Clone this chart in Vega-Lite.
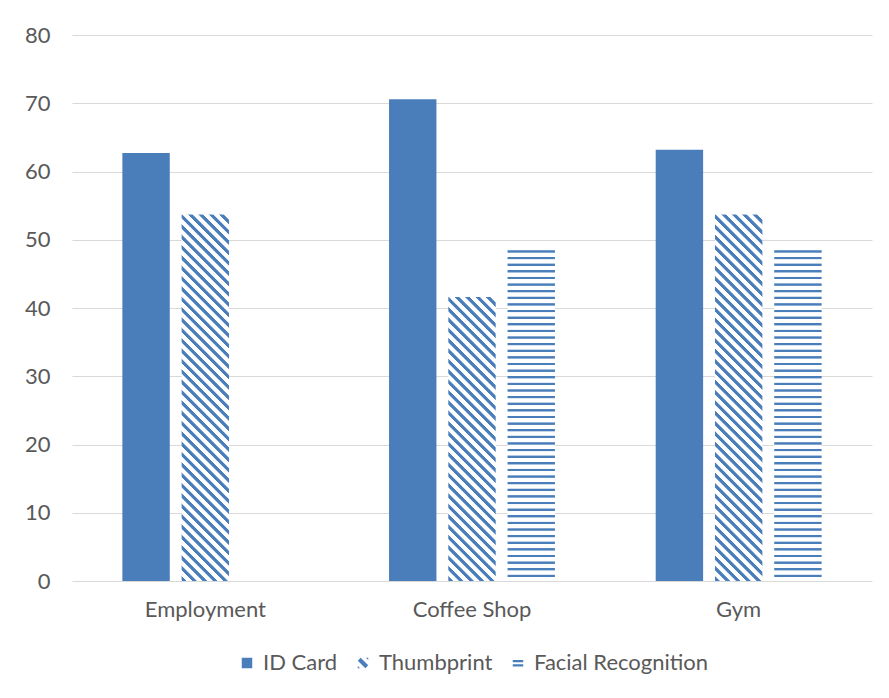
{
  "$schema": "https://vega.github.io/schema/vega-lite/v6.json",
  "width": 800,
  "height": 546,
  "autosize": {"type": "none"},
  "padding": {"left": 72, "top": 35, "right": 17, "bottom": 117},
  "background": "white",
  "config": {
    "view": {"stroke": null},
    "font": "Lato",
    "axis": {"labelFont": "Lato", "labelColor": "#595959", "labelFontSize": 22, "ticks": false, "domain": false},
    "legend": {"layout": {"bottom": {"anchor": "middle"}}}
  },
  "data": {"values": [
    {"category": "Employment", "series": "ID Card", "value": 62.7},
    {"category": "Employment", "series": "Thumbprint", "value": 53.7},
    {"category": "Coffee Shop", "series": "ID Card", "value": 70.6},
    {"category": "Coffee Shop", "series": "Thumbprint", "value": 41.6},
    {"category": "Coffee Shop", "series": "Facial Recognition", "value": 48.5},
    {"category": "Gym", "series": "ID Card", "value": 63.2},
    {"category": "Gym", "series": "Thumbprint", "value": 53.7},
    {"category": "Gym", "series": "Facial Recognition", "value": 48.5}
  ]},
  "encoding": {
    "x": {"field": "category", "type": "nominal", "sort": ["Employment", "Coffee Shop", "Gym"],
      "scale": {"paddingInner": 0, "paddingOuter": 0},
      "axis": {"title": null, "labelAngle": 0, "labelPadding": 18, "grid": false}},
    "xOffset": {"field": "series", "type": "nominal",
      "scale": {"domain": ["ID Card", "Thumbprint", "Facial Recognition"], "paddingInner": 0.2, "paddingOuter": 0.85}},
    "y": {"field": "value", "type": "quantitative", "scale": {"domain": [0, 80]},
      "axis": {"title": null, "values": [0, 10, 20, 30, 40, 50, 60, 70, 80], "grid": true, "gridColor": "#d9d9d9", "gridWidth": 1.2, "labelPadding": 22}}
  },
  "layer": [
    {
      "mark": {"type": "bar"},
      "encoding": {
        "fill": {
          "field": "series", "type": "nominal",
          "legend": {"title": null, "orient": "bottom", "direction": "horizontal", "offset": 32, "symbolSize": 110, "symbolStrokeWidth": 0, "symbolOpacity": 1, "labelFont": "Lato", "labelFontSize": 22, "labelColor": "#595959", "labelLimit": 300, "labelOffset": 5, "columnPadding": 14},
          "scale": {"domain": ["ID Card", "Thumbprint", "Facial Recognition"], "range": ["#4a7ebb", "#4a7ebb", "#4a7ebb"]},
          "condition": [
            {"test": "datum.series === 'Thumbprint' && datum.category === 'Coffee Shop'", "value": {"gradient": "linear", "x1": 0, "y1": 1, "x2": 0.1896, "y2": -0.1353, "stops": [
{"offset":0,"color":"#fff"},{"offset":0.0025,"color":"#4a7ebb"},{"offset":0.01375,"color":"#4a7ebb"},{"offset":0.01625,"color":"#fff"},
{"offset":0.03125,"color":"#fff"},{"offset":0.03375,"color":"#4a7ebb"},{"offset":0.045,"color":"#4a7ebb"},{"offset":0.0475,"color":"#fff"},
{"offset":0.0625,"color":"#fff"},{"offset":0.065,"color":"#4a7ebb"},{"offset":0.07625,"color":"#4a7ebb"},{"offset":0.07875,"color":"#fff"},
{"offset":0.09375,"color":"#fff"},{"offset":0.09625,"color":"#4a7ebb"},{"offset":0.1075,"color":"#4a7ebb"},{"offset":0.11,"color":"#fff"},
{"offset":0.125,"color":"#fff"},{"offset":0.1275,"color":"#4a7ebb"},{"offset":0.13875,"color":"#4a7ebb"},{"offset":0.14125,"color":"#fff"},
{"offset":0.15625,"color":"#fff"},{"offset":0.15875,"color":"#4a7ebb"},{"offset":0.17,"color":"#4a7ebb"},{"offset":0.1725,"color":"#fff"},
{"offset":0.1875,"color":"#fff"},{"offset":0.19,"color":"#4a7ebb"},{"offset":0.20125,"color":"#4a7ebb"},{"offset":0.20375,"color":"#fff"},
{"offset":0.21875,"color":"#fff"},{"offset":0.22125,"color":"#4a7ebb"},{"offset":0.2325,"color":"#4a7ebb"},{"offset":0.235,"color":"#fff"},
{"offset":0.25,"color":"#fff"},{"offset":0.2525,"color":"#4a7ebb"},{"offset":0.26375,"color":"#4a7ebb"},{"offset":0.26625,"color":"#fff"},
{"offset":0.28125,"color":"#fff"},{"offset":0.28375,"color":"#4a7ebb"},{"offset":0.295,"color":"#4a7ebb"},{"offset":0.2975,"color":"#fff"},
{"offset":0.3125,"color":"#fff"},{"offset":0.315,"color":"#4a7ebb"},{"offset":0.32625,"color":"#4a7ebb"},{"offset":0.32875,"color":"#fff"},
{"offset":0.34375,"color":"#fff"},{"offset":0.34625,"color":"#4a7ebb"},{"offset":0.3575,"color":"#4a7ebb"},{"offset":0.36,"color":"#fff"},
{"offset":0.375,"color":"#fff"},{"offset":0.3775,"color":"#4a7ebb"},{"offset":0.38875,"color":"#4a7ebb"},{"offset":0.39125,"color":"#fff"},
{"offset":0.40625,"color":"#fff"},{"offset":0.40875,"color":"#4a7ebb"},{"offset":0.42,"color":"#4a7ebb"},{"offset":0.4225,"color":"#fff"},
{"offset":0.4375,"color":"#fff"},{"offset":0.44,"color":"#4a7ebb"},{"offset":0.45125,"color":"#4a7ebb"},{"offset":0.45375,"color":"#fff"},
{"offset":0.46875,"color":"#fff"},{"offset":0.47125,"color":"#4a7ebb"},{"offset":0.4825,"color":"#4a7ebb"},{"offset":0.485,"color":"#fff"},
{"offset":0.5,"color":"#fff"},{"offset":0.5025,"color":"#4a7ebb"},{"offset":0.51375,"color":"#4a7ebb"},{"offset":0.51625,"color":"#fff"},
{"offset":0.53125,"color":"#fff"},{"offset":0.53375,"color":"#4a7ebb"},{"offset":0.545,"color":"#4a7ebb"},{"offset":0.5475,"color":"#fff"},
{"offset":0.5625,"color":"#fff"},{"offset":0.565,"color":"#4a7ebb"},{"offset":0.57625,"color":"#4a7ebb"},{"offset":0.57875,"color":"#fff"},
{"offset":0.59375,"color":"#fff"},{"offset":0.59625,"color":"#4a7ebb"},{"offset":0.6075,"color":"#4a7ebb"},{"offset":0.61,"color":"#fff"},
{"offset":0.625,"color":"#fff"},{"offset":0.6275,"color":"#4a7ebb"},{"offset":0.63875,"color":"#4a7ebb"},{"offset":0.64125,"color":"#fff"},
{"offset":0.65625,"color":"#fff"},{"offset":0.65875,"color":"#4a7ebb"},{"offset":0.67,"color":"#4a7ebb"},{"offset":0.6725,"color":"#fff"},
{"offset":0.6875,"color":"#fff"},{"offset":0.69,"color":"#4a7ebb"},{"offset":0.70125,"color":"#4a7ebb"},{"offset":0.70375,"color":"#fff"},
{"offset":0.71875,"color":"#fff"},{"offset":0.72125,"color":"#4a7ebb"},{"offset":0.7325,"color":"#4a7ebb"},{"offset":0.735,"color":"#fff"},
{"offset":0.75,"color":"#fff"},{"offset":0.7525,"color":"#4a7ebb"},{"offset":0.76375,"color":"#4a7ebb"},{"offset":0.76625,"color":"#fff"},
{"offset":0.78125,"color":"#fff"},{"offset":0.78375,"color":"#4a7ebb"},{"offset":0.795,"color":"#4a7ebb"},{"offset":0.7975,"color":"#fff"},
{"offset":0.8125,"color":"#fff"},{"offset":0.815,"color":"#4a7ebb"},{"offset":0.82625,"color":"#4a7ebb"},{"offset":0.82875,"color":"#fff"},
{"offset":0.84375,"color":"#fff"},{"offset":0.84625,"color":"#4a7ebb"},{"offset":0.8575,"color":"#4a7ebb"},{"offset":0.86,"color":"#fff"},
{"offset":0.875,"color":"#fff"},{"offset":0.8775,"color":"#4a7ebb"},{"offset":0.88875,"color":"#4a7ebb"},{"offset":0.89125,"color":"#fff"},
{"offset":0.90625,"color":"#fff"},{"offset":0.90875,"color":"#4a7ebb"},{"offset":0.92,"color":"#4a7ebb"},{"offset":0.9225,"color":"#fff"},
{"offset":0.9375,"color":"#fff"},{"offset":0.94,"color":"#4a7ebb"},{"offset":0.95125,"color":"#4a7ebb"},{"offset":0.95375,"color":"#fff"},
{"offset":0.96875,"color":"#fff"},{"offset":0.97125,"color":"#4a7ebb"},{"offset":0.9825,"color":"#4a7ebb"},{"offset":0.985,"color":"#fff"}
            ]}},
            {"test": "datum.series === 'Thumbprint'", "value": {"gradient": "linear", "x1": 0, "y1": 1, "x2": 0.1437, "y2": -0.1108, "stops": [
{"offset":0,"color":"#fff"},{"offset":0.002,"color":"#4a7ebb"},{"offset":0.011,"color":"#4a7ebb"},{"offset":0.013,"color":"#fff"},
{"offset":0.025,"color":"#fff"},{"offset":0.027,"color":"#4a7ebb"},{"offset":0.036,"color":"#4a7ebb"},{"offset":0.038,"color":"#fff"},
{"offset":0.05,"color":"#fff"},{"offset":0.052,"color":"#4a7ebb"},{"offset":0.061,"color":"#4a7ebb"},{"offset":0.063,"color":"#fff"},
{"offset":0.075,"color":"#fff"},{"offset":0.077,"color":"#4a7ebb"},{"offset":0.086,"color":"#4a7ebb"},{"offset":0.088,"color":"#fff"},
{"offset":0.1,"color":"#fff"},{"offset":0.102,"color":"#4a7ebb"},{"offset":0.111,"color":"#4a7ebb"},{"offset":0.113,"color":"#fff"},
{"offset":0.125,"color":"#fff"},{"offset":0.127,"color":"#4a7ebb"},{"offset":0.136,"color":"#4a7ebb"},{"offset":0.138,"color":"#fff"},
{"offset":0.15,"color":"#fff"},{"offset":0.152,"color":"#4a7ebb"},{"offset":0.161,"color":"#4a7ebb"},{"offset":0.163,"color":"#fff"},
{"offset":0.175,"color":"#fff"},{"offset":0.177,"color":"#4a7ebb"},{"offset":0.186,"color":"#4a7ebb"},{"offset":0.188,"color":"#fff"},
{"offset":0.2,"color":"#fff"},{"offset":0.202,"color":"#4a7ebb"},{"offset":0.211,"color":"#4a7ebb"},{"offset":0.213,"color":"#fff"},
{"offset":0.225,"color":"#fff"},{"offset":0.227,"color":"#4a7ebb"},{"offset":0.236,"color":"#4a7ebb"},{"offset":0.238,"color":"#fff"},
{"offset":0.25,"color":"#fff"},{"offset":0.252,"color":"#4a7ebb"},{"offset":0.261,"color":"#4a7ebb"},{"offset":0.263,"color":"#fff"},
{"offset":0.275,"color":"#fff"},{"offset":0.277,"color":"#4a7ebb"},{"offset":0.286,"color":"#4a7ebb"},{"offset":0.288,"color":"#fff"},
{"offset":0.3,"color":"#fff"},{"offset":0.302,"color":"#4a7ebb"},{"offset":0.311,"color":"#4a7ebb"},{"offset":0.313,"color":"#fff"},
{"offset":0.325,"color":"#fff"},{"offset":0.327,"color":"#4a7ebb"},{"offset":0.336,"color":"#4a7ebb"},{"offset":0.338,"color":"#fff"},
{"offset":0.35,"color":"#fff"},{"offset":0.352,"color":"#4a7ebb"},{"offset":0.361,"color":"#4a7ebb"},{"offset":0.363,"color":"#fff"},
{"offset":0.375,"color":"#fff"},{"offset":0.377,"color":"#4a7ebb"},{"offset":0.386,"color":"#4a7ebb"},{"offset":0.388,"color":"#fff"},
{"offset":0.4,"color":"#fff"},{"offset":0.402,"color":"#4a7ebb"},{"offset":0.411,"color":"#4a7ebb"},{"offset":0.413,"color":"#fff"},
{"offset":0.425,"color":"#fff"},{"offset":0.427,"color":"#4a7ebb"},{"offset":0.436,"color":"#4a7ebb"},{"offset":0.438,"color":"#fff"},
{"offset":0.45,"color":"#fff"},{"offset":0.452,"color":"#4a7ebb"},{"offset":0.461,"color":"#4a7ebb"},{"offset":0.463,"color":"#fff"},
{"offset":0.475,"color":"#fff"},{"offset":0.477,"color":"#4a7ebb"},{"offset":0.486,"color":"#4a7ebb"},{"offset":0.488,"color":"#fff"},
{"offset":0.5,"color":"#fff"},{"offset":0.502,"color":"#4a7ebb"},{"offset":0.511,"color":"#4a7ebb"},{"offset":0.513,"color":"#fff"},
{"offset":0.525,"color":"#fff"},{"offset":0.527,"color":"#4a7ebb"},{"offset":0.536,"color":"#4a7ebb"},{"offset":0.538,"color":"#fff"},
{"offset":0.55,"color":"#fff"},{"offset":0.552,"color":"#4a7ebb"},{"offset":0.561,"color":"#4a7ebb"},{"offset":0.563,"color":"#fff"},
{"offset":0.575,"color":"#fff"},{"offset":0.577,"color":"#4a7ebb"},{"offset":0.586,"color":"#4a7ebb"},{"offset":0.588,"color":"#fff"},
{"offset":0.6,"color":"#fff"},{"offset":0.602,"color":"#4a7ebb"},{"offset":0.611,"color":"#4a7ebb"},{"offset":0.613,"color":"#fff"},
{"offset":0.625,"color":"#fff"},{"offset":0.627,"color":"#4a7ebb"},{"offset":0.636,"color":"#4a7ebb"},{"offset":0.638,"color":"#fff"},
{"offset":0.65,"color":"#fff"},{"offset":0.652,"color":"#4a7ebb"},{"offset":0.661,"color":"#4a7ebb"},{"offset":0.663,"color":"#fff"},
{"offset":0.675,"color":"#fff"},{"offset":0.677,"color":"#4a7ebb"},{"offset":0.686,"color":"#4a7ebb"},{"offset":0.688,"color":"#fff"},
{"offset":0.7,"color":"#fff"},{"offset":0.702,"color":"#4a7ebb"},{"offset":0.711,"color":"#4a7ebb"},{"offset":0.713,"color":"#fff"},
{"offset":0.725,"color":"#fff"},{"offset":0.727,"color":"#4a7ebb"},{"offset":0.736,"color":"#4a7ebb"},{"offset":0.738,"color":"#fff"},
{"offset":0.75,"color":"#fff"},{"offset":0.752,"color":"#4a7ebb"},{"offset":0.761,"color":"#4a7ebb"},{"offset":0.763,"color":"#fff"},
{"offset":0.775,"color":"#fff"},{"offset":0.777,"color":"#4a7ebb"},{"offset":0.786,"color":"#4a7ebb"},{"offset":0.788,"color":"#fff"},
{"offset":0.8,"color":"#fff"},{"offset":0.802,"color":"#4a7ebb"},{"offset":0.811,"color":"#4a7ebb"},{"offset":0.813,"color":"#fff"},
{"offset":0.825,"color":"#fff"},{"offset":0.827,"color":"#4a7ebb"},{"offset":0.836,"color":"#4a7ebb"},{"offset":0.838,"color":"#fff"},
{"offset":0.85,"color":"#fff"},{"offset":0.852,"color":"#4a7ebb"},{"offset":0.861,"color":"#4a7ebb"},{"offset":0.863,"color":"#fff"},
{"offset":0.875,"color":"#fff"},{"offset":0.877,"color":"#4a7ebb"},{"offset":0.886,"color":"#4a7ebb"},{"offset":0.888,"color":"#fff"},
{"offset":0.9,"color":"#fff"},{"offset":0.902,"color":"#4a7ebb"},{"offset":0.911,"color":"#4a7ebb"},{"offset":0.913,"color":"#fff"},
{"offset":0.925,"color":"#fff"},{"offset":0.927,"color":"#4a7ebb"},{"offset":0.936,"color":"#4a7ebb"},{"offset":0.938,"color":"#fff"},
{"offset":0.95,"color":"#fff"},{"offset":0.952,"color":"#4a7ebb"},{"offset":0.961,"color":"#4a7ebb"},{"offset":0.963,"color":"#fff"},
{"offset":0.975,"color":"#fff"},{"offset":0.977,"color":"#4a7ebb"},{"offset":0.986,"color":"#4a7ebb"},{"offset":0.988,"color":"#fff"}
            ]}},
            {"test": "datum.series === 'Facial Recognition'", "value": {"gradient": "linear", "x1": 0.5, "y1": 0, "x2": 0.5, "y2": 1, "stops": [
{"offset":0,"color":"#fff"},{"offset":0.002,"color":"#4a7ebb"},{"offset":0.007,"color":"#4a7ebb"},{"offset":0.009,"color":"#fff"},
{"offset":0.02,"color":"#fff"},{"offset":0.022,"color":"#4a7ebb"},{"offset":0.027,"color":"#4a7ebb"},{"offset":0.029,"color":"#fff"},
{"offset":0.04,"color":"#fff"},{"offset":0.042,"color":"#4a7ebb"},{"offset":0.047,"color":"#4a7ebb"},{"offset":0.049,"color":"#fff"},
{"offset":0.06,"color":"#fff"},{"offset":0.062,"color":"#4a7ebb"},{"offset":0.067,"color":"#4a7ebb"},{"offset":0.069,"color":"#fff"},
{"offset":0.08,"color":"#fff"},{"offset":0.082,"color":"#4a7ebb"},{"offset":0.087,"color":"#4a7ebb"},{"offset":0.089,"color":"#fff"},
{"offset":0.1,"color":"#fff"},{"offset":0.102,"color":"#4a7ebb"},{"offset":0.107,"color":"#4a7ebb"},{"offset":0.109,"color":"#fff"},
{"offset":0.12,"color":"#fff"},{"offset":0.122,"color":"#4a7ebb"},{"offset":0.127,"color":"#4a7ebb"},{"offset":0.129,"color":"#fff"},
{"offset":0.14,"color":"#fff"},{"offset":0.142,"color":"#4a7ebb"},{"offset":0.147,"color":"#4a7ebb"},{"offset":0.149,"color":"#fff"},
{"offset":0.16,"color":"#fff"},{"offset":0.162,"color":"#4a7ebb"},{"offset":0.167,"color":"#4a7ebb"},{"offset":0.169,"color":"#fff"},
{"offset":0.18,"color":"#fff"},{"offset":0.182,"color":"#4a7ebb"},{"offset":0.187,"color":"#4a7ebb"},{"offset":0.189,"color":"#fff"},
{"offset":0.2,"color":"#fff"},{"offset":0.202,"color":"#4a7ebb"},{"offset":0.207,"color":"#4a7ebb"},{"offset":0.209,"color":"#fff"},
{"offset":0.22,"color":"#fff"},{"offset":0.222,"color":"#4a7ebb"},{"offset":0.227,"color":"#4a7ebb"},{"offset":0.229,"color":"#fff"},
{"offset":0.24,"color":"#fff"},{"offset":0.242,"color":"#4a7ebb"},{"offset":0.247,"color":"#4a7ebb"},{"offset":0.249,"color":"#fff"},
{"offset":0.26,"color":"#fff"},{"offset":0.262,"color":"#4a7ebb"},{"offset":0.267,"color":"#4a7ebb"},{"offset":0.269,"color":"#fff"},
{"offset":0.28,"color":"#fff"},{"offset":0.282,"color":"#4a7ebb"},{"offset":0.287,"color":"#4a7ebb"},{"offset":0.289,"color":"#fff"},
{"offset":0.3,"color":"#fff"},{"offset":0.302,"color":"#4a7ebb"},{"offset":0.307,"color":"#4a7ebb"},{"offset":0.309,"color":"#fff"},
{"offset":0.32,"color":"#fff"},{"offset":0.322,"color":"#4a7ebb"},{"offset":0.327,"color":"#4a7ebb"},{"offset":0.329,"color":"#fff"},
{"offset":0.34,"color":"#fff"},{"offset":0.342,"color":"#4a7ebb"},{"offset":0.347,"color":"#4a7ebb"},{"offset":0.349,"color":"#fff"},
{"offset":0.36,"color":"#fff"},{"offset":0.362,"color":"#4a7ebb"},{"offset":0.367,"color":"#4a7ebb"},{"offset":0.369,"color":"#fff"},
{"offset":0.38,"color":"#fff"},{"offset":0.382,"color":"#4a7ebb"},{"offset":0.387,"color":"#4a7ebb"},{"offset":0.389,"color":"#fff"},
{"offset":0.4,"color":"#fff"},{"offset":0.402,"color":"#4a7ebb"},{"offset":0.407,"color":"#4a7ebb"},{"offset":0.409,"color":"#fff"},
{"offset":0.42,"color":"#fff"},{"offset":0.422,"color":"#4a7ebb"},{"offset":0.427,"color":"#4a7ebb"},{"offset":0.429,"color":"#fff"},
{"offset":0.44,"color":"#fff"},{"offset":0.442,"color":"#4a7ebb"},{"offset":0.447,"color":"#4a7ebb"},{"offset":0.449,"color":"#fff"},
{"offset":0.46,"color":"#fff"},{"offset":0.462,"color":"#4a7ebb"},{"offset":0.467,"color":"#4a7ebb"},{"offset":0.469,"color":"#fff"},
{"offset":0.48,"color":"#fff"},{"offset":0.482,"color":"#4a7ebb"},{"offset":0.487,"color":"#4a7ebb"},{"offset":0.489,"color":"#fff"},
{"offset":0.5,"color":"#fff"},{"offset":0.502,"color":"#4a7ebb"},{"offset":0.507,"color":"#4a7ebb"},{"offset":0.509,"color":"#fff"},
{"offset":0.52,"color":"#fff"},{"offset":0.522,"color":"#4a7ebb"},{"offset":0.527,"color":"#4a7ebb"},{"offset":0.529,"color":"#fff"},
{"offset":0.54,"color":"#fff"},{"offset":0.542,"color":"#4a7ebb"},{"offset":0.547,"color":"#4a7ebb"},{"offset":0.549,"color":"#fff"},
{"offset":0.56,"color":"#fff"},{"offset":0.562,"color":"#4a7ebb"},{"offset":0.567,"color":"#4a7ebb"},{"offset":0.569,"color":"#fff"},
{"offset":0.58,"color":"#fff"},{"offset":0.582,"color":"#4a7ebb"},{"offset":0.587,"color":"#4a7ebb"},{"offset":0.589,"color":"#fff"},
{"offset":0.6,"color":"#fff"},{"offset":0.602,"color":"#4a7ebb"},{"offset":0.607,"color":"#4a7ebb"},{"offset":0.609,"color":"#fff"},
{"offset":0.62,"color":"#fff"},{"offset":0.622,"color":"#4a7ebb"},{"offset":0.627,"color":"#4a7ebb"},{"offset":0.629,"color":"#fff"},
{"offset":0.64,"color":"#fff"},{"offset":0.642,"color":"#4a7ebb"},{"offset":0.647,"color":"#4a7ebb"},{"offset":0.649,"color":"#fff"},
{"offset":0.66,"color":"#fff"},{"offset":0.662,"color":"#4a7ebb"},{"offset":0.667,"color":"#4a7ebb"},{"offset":0.669,"color":"#fff"},
{"offset":0.68,"color":"#fff"},{"offset":0.682,"color":"#4a7ebb"},{"offset":0.687,"color":"#4a7ebb"},{"offset":0.689,"color":"#fff"},
{"offset":0.7,"color":"#fff"},{"offset":0.702,"color":"#4a7ebb"},{"offset":0.707,"color":"#4a7ebb"},{"offset":0.709,"color":"#fff"},
{"offset":0.72,"color":"#fff"},{"offset":0.722,"color":"#4a7ebb"},{"offset":0.727,"color":"#4a7ebb"},{"offset":0.729,"color":"#fff"},
{"offset":0.74,"color":"#fff"},{"offset":0.742,"color":"#4a7ebb"},{"offset":0.747,"color":"#4a7ebb"},{"offset":0.749,"color":"#fff"},
{"offset":0.76,"color":"#fff"},{"offset":0.762,"color":"#4a7ebb"},{"offset":0.767,"color":"#4a7ebb"},{"offset":0.769,"color":"#fff"},
{"offset":0.78,"color":"#fff"},{"offset":0.782,"color":"#4a7ebb"},{"offset":0.787,"color":"#4a7ebb"},{"offset":0.789,"color":"#fff"},
{"offset":0.8,"color":"#fff"},{"offset":0.802,"color":"#4a7ebb"},{"offset":0.807,"color":"#4a7ebb"},{"offset":0.809,"color":"#fff"},
{"offset":0.82,"color":"#fff"},{"offset":0.822,"color":"#4a7ebb"},{"offset":0.827,"color":"#4a7ebb"},{"offset":0.829,"color":"#fff"},
{"offset":0.84,"color":"#fff"},{"offset":0.842,"color":"#4a7ebb"},{"offset":0.847,"color":"#4a7ebb"},{"offset":0.849,"color":"#fff"},
{"offset":0.86,"color":"#fff"},{"offset":0.862,"color":"#4a7ebb"},{"offset":0.867,"color":"#4a7ebb"},{"offset":0.869,"color":"#fff"},
{"offset":0.88,"color":"#fff"},{"offset":0.882,"color":"#4a7ebb"},{"offset":0.887,"color":"#4a7ebb"},{"offset":0.889,"color":"#fff"},
{"offset":0.9,"color":"#fff"},{"offset":0.902,"color":"#4a7ebb"},{"offset":0.907,"color":"#4a7ebb"},{"offset":0.909,"color":"#fff"},
{"offset":0.92,"color":"#fff"},{"offset":0.922,"color":"#4a7ebb"},{"offset":0.927,"color":"#4a7ebb"},{"offset":0.929,"color":"#fff"},
{"offset":0.94,"color":"#fff"},{"offset":0.942,"color":"#4a7ebb"},{"offset":0.947,"color":"#4a7ebb"},{"offset":0.949,"color":"#fff"},
{"offset":0.96,"color":"#fff"},{"offset":0.962,"color":"#4a7ebb"},{"offset":0.967,"color":"#4a7ebb"},{"offset":0.969,"color":"#fff"},
{"offset":0.98,"color":"#fff"},{"offset":0.982,"color":"#4a7ebb"},{"offset":0.987,"color":"#4a7ebb"},{"offset":0.989,"color":"#fff"}
            ]}}
          ]
        }
      }
    },
    {
      "mark": {"type": "point", "filled": true, "size": 0},
      "encoding": {
        "shape": {"field": "series", "type": "nominal",
          "legend": {"title": null, "orient": "bottom", "direction": "horizontal", "offset": 32, "symbolSize": 110, "symbolStrokeWidth": 0, "symbolOpacity": 1, "labelFont": "Lato", "labelFontSize": 22, "labelColor": "#595959", "labelLimit": 300, "labelOffset": 5, "columnPadding": 14},
          "scale": {"domain": ["ID Card", "Thumbprint", "Facial Recognition"], "range": [
            "square",
            "M-1,-0.45L-0.45,-1L1,0.45L0.45,1Z M0.55,-1L1,-1L1,-0.55Z M-1,0.55L-0.55,1L-1,1Z",
            "M-1,-0.55H1V-0.15H-1Z M-1,0.25H1V0.65H-1Z"
          ]}}
      }
    }
  ]
}
